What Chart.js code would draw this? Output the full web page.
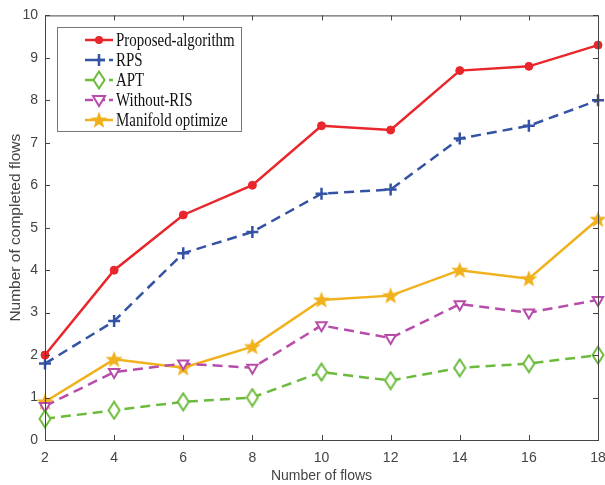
<!DOCTYPE html>
<html>
<head>
<meta charset="utf-8">
<script src="https://cdn.jsdelivr.net/npm/chart.js@4.4.0/dist/chart.umd.min.js"></script>
<style>
  html, body { margin: 0; padding: 0; background: #fff; }
  #wrap { width: 605px; height: 485px; }
</style>
</head>
<body>
<div id="wrap"><canvas id="chart" width="605" height="485"></canvas></div>
<script>
const flows = [2, 4, 6, 8, 10, 12, 14, 16, 18];
const proposed = [2.0, 4.0, 5.3, 6.0, 7.4, 7.3, 8.7, 8.8, 9.3];
const rps = [1.8, 2.8, 4.4, 4.9, 5.8, 5.9, 7.1, 7.4, 8.0];
const apt = [0.5, 0.7, 0.9, 1.0, 1.6, 1.4, 1.7, 1.8, 2.0];
const withoutRis = [0.8, 1.6, 1.8, 1.7, 2.7, 2.4, 3.2, 3.0, 3.3];
const manifold = [0.9, 1.9, 1.7, 2.2, 3.3, 3.4, 4.0, 3.8, 5.2];
const yTicks = [0, 1, 2, 3, 4, 5, 6, 7, 8, 9, 10];

const RED = '#e8262b', BLUE = '#3453a5', GREEN = '#6cbb3c', PURPLE = '#b84ca9', ORANGE = '#f0b11c';

// custom marker images
function starImg(color) {
    const c = document.createElement('canvas');
    c.width = 20; c.height = 20;
    const g = c.getContext('2d');
    g.beginPath();
    for (let i = 0; i < 10; i++) {
        const r = i % 2 === 0 ? 9 : 3.8;
        const a = -Math.PI / 2 + i * Math.PI / 5;
        g.lineTo(10 + r * Math.cos(a), 10.5 + r * Math.sin(a));
    }
    g.closePath();
    g.fillStyle = color;
    g.fill();
    return c;
}
function diamondImg(color) {
    const c = document.createElement('canvas');
    c.width = 14; c.height = 20;
    const g = c.getContext('2d');
    g.beginPath();
    g.moveTo(7, 1.5); g.lineTo(12.5, 10); g.lineTo(7, 18.5); g.lineTo(1.5, 10);
    g.closePath();
    g.fillStyle = '#fff';
    g.fill();
    g.lineWidth = 2;
    g.strokeStyle = color;
    g.stroke();
    return c;
}
const star = starImg(ORANGE);
const diamond = diamondImg(GREEN);

const toPts = arr => arr.map((v, i) => ({x: flows[i], y: v}));

const datasets = [
    {label: 'Proposed-algorithm', data: toPts(proposed), borderColor: RED, backgroundColor: RED,
     pointStyle: 'circle', pointRadius: 4, borderWidth: 2.5, pointBorderWidth: 1},
    {label: 'RPS', data: toPts(rps), borderColor: BLUE, backgroundColor: BLUE, borderDash: [10, 6],
     pointStyle: 'cross', pointRadius: 6, borderWidth: 2.5, pointBorderWidth: 2.5},
    {label: 'APT', data: toPts(apt), borderColor: GREEN, backgroundColor: '#fff', borderDash: [10, 6],
     pointStyle: diamond, pointRadius: 7, borderWidth: 2.5},
    {label: 'Without-RIS', data: toPts(withoutRis), borderColor: PURPLE, backgroundColor: '#fff', borderDash: [10, 6],
     pointStyle: 'triangle', rotation: 180, pointRadius: 6, borderWidth: 2.5, pointBorderWidth: 2},
    {label: 'Manifold optimize', data: toPts(manifold), borderColor: ORANGE, backgroundColor: ORANGE,
     pointStyle: star, pointRadius: 9, borderWidth: 2.5},
];
datasets.forEach(d => { d.fill = false; d.tension = 0; d.clip = 12; });

function drawMarker(g, ds, x, y) {
    g.save();
    g.setLineDash([]);
    const st = ds.pointStyle;
    if (st instanceof HTMLCanvasElement) {
        g.drawImage(st, x - st.width / 2, y - st.height / 2);
    } else if (st === 'circle') {
        g.beginPath(); g.arc(x, y, 4, 0, Math.PI * 2);
        g.fillStyle = ds.backgroundColor; g.fill();
    } else if (st === 'cross') {
        g.beginPath(); g.moveTo(x - 6, y); g.lineTo(x + 6, y); g.moveTo(x, y - 6); g.lineTo(x, y + 6);
        g.strokeStyle = ds.borderColor; g.lineWidth = 2.5; g.stroke();
    } else if (st === 'triangle') {
        g.beginPath(); g.moveTo(x - 6, y - 4); g.lineTo(x + 6, y - 4); g.lineTo(x, y + 6); g.closePath();
        g.fillStyle = '#fff'; g.fill();
        g.strokeStyle = ds.borderColor; g.lineWidth = 2; g.stroke();
    }
    g.restore();
}

const frame = {
    id: 'frame',
    afterDatasetsDraw(chart) {
        const g = chart.ctx;
        const a = chart.chartArea;
        const xs = chart.scales.x, ys = chart.scales.y;
        g.save();
        g.strokeStyle = '#444';
        g.lineWidth = 1;
        g.strokeRect(a.left + 0.5, a.top + 0.5, a.right - a.left, a.bottom - a.top);
        g.beginPath();
        flows.forEach(v => {
            const px = Math.round(xs.getPixelForValue(v)) + 0.5;
            g.moveTo(px, a.bottom); g.lineTo(px, a.bottom - 5);
            g.moveTo(px, a.top); g.lineTo(px, a.top + 5);
        });
        yTicks.forEach(v => {
            const py = Math.round(ys.getPixelForValue(v)) + 0.5;
            g.moveTo(a.left, py); g.lineTo(a.left + 5, py);
            g.moveTo(a.right, py); g.lineTo(a.right - 5, py);
        });
        g.stroke();

        // legend (text squeezed horizontally like the source figure)
        const lx = 57, ly = 27, lw = 184, lh = 104;
        g.fillStyle = '#fff';
        g.fillRect(lx, ly, lw, lh);
        g.strokeStyle = '#777';
        g.strokeRect(lx + 0.5, ly + 0.5, lw, lh);
        chart.data.datasets.forEach((ds, i) => {
            const y = ly + 13 + i * 20;
            g.save();
            g.strokeStyle = ds.borderColor;
            g.lineWidth = 2.5;
            g.setLineDash(ds.borderDash ? [8, 4] : []);
            g.beginPath(); g.moveTo(85, y); g.lineTo(113, y); g.stroke();
            g.restore();
            drawMarker(g, ds, 99, y);
            g.save();
            g.translate(116, y + 1);
            g.scale(0.83, 1);
            g.font = '18px "Liberation Serif", "Times New Roman", serif';
            g.textBaseline = 'middle';
            g.fillStyle = '#111';
            g.fillText(ds.label, 0, 0);
            g.restore();
        });
        g.restore();
    }
};

const narrow = '"Liberation Sans Narrow", "Arial Narrow", "Liberation Sans", Arial, sans-serif';
const tickFont = {family: narrow, size: 14};
const xTitleFont = {family: narrow, size: 14};
const yTitleFont = {family: '"Liberation Sans", Arial, sans-serif', size: 15.5};

const config = {
    type: 'line',
    data: {datasets: datasets},
    options: {
        responsive: false,
        animation: false,
        layout: {autoPadding: false, padding: {top: 7, right: 0, left: 2, bottom: 0}},
        plugins: {legend: {display: false}, tooltip: {enabled: false}},
        scales: {
            x: {
                type: 'linear', min: 2, max: 18,
                afterFit: s => { s.height = 45; s.paddingRight = 7; },
                ticks: {stepSize: 2, color: '#444', font: tickFont, padding: 10},
                grid: {display: false, drawTicks: false},
                border: {display: false},
                title: {display: true, text: 'Number of flows', color: '#444', font: xTitleFont, padding: {top: 3, bottom: 0}}
            },
            y: {
                min: 0, max: 10,
                afterFit: s => { s.width = 43; },
                ticks: {stepSize: 1, color: '#444', font: tickFont, padding: 7},
                grid: {display: false, drawTicks: false},
                border: {display: false},
                title: {display: true, text: 'Number of completed flows', color: '#444', font: yTitleFont, padding: {top: 4, bottom: 2}}
            }
        }
    },
    plugins: [frame]
};

const myChart = new Chart(document.getElementById('chart'), config);
</script>
</body>
</html>
